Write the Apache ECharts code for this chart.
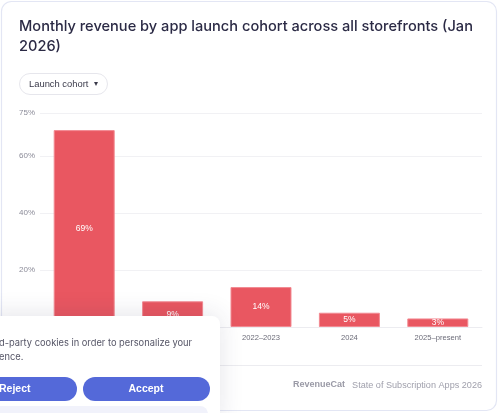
<!DOCTYPE html>
<html>
<head>
<meta charset="utf-8">
<script src="https://cdn.jsdelivr.net/npm/echarts@6/dist/echarts.min.js"></script>
<style>
html,body{margin:0;padding:0;background:#fff;}
#chart{width:500px;height:413px;}
</style>
</head>
<body>
<div id="chart"></div>
<script>
const categories = ['Before 2020', '2020–2021', '2022–2023', '2024', '2025–present'];
const revenueShare = [69, 9, 14, 5, 3];
const yTicks = [0, 20, 40, 60, 75];

const FONT = 'Inter, "Noto Sans", sans-serif';
const AXFONT = '"Liberation Sans", Arial, sans-serif';
const chart = echarts.init(document.getElementById('chart'));
chart.setOption({
  animation: false,
  textStyle: { fontFamily: FONT },
  title: {
    text: 'Monthly revenue by app launch cohort across all storefronts (Jan\n2026)',
    left: 19, top: 17, padding: 0,
    textStyle: { fontSize: 14.6, fontWeight: 500, color: '#2b2a45', lineHeight: 20, fontFamily: FONT }
  },
  grid: { left: 40, right: 18, top: 113, bottom: 86 },
  xAxis: {
    type: 'category',
    data: categories,
    axisLine: { lineStyle: { color: '#ececf0' } },
    axisTick: { show: false },
    axisLabel: { color: '#6b6b78', fontSize: 7.6, margin: 7, fontFamily: AXFONT }
  },
  yAxis: {
    type: 'value',
    min: yTicks[0], max: yTicks[yTicks.length - 1], interval: 20,
    axisLine: { show: false },
    axisTick: { show: false },
    splitLine: { lineStyle: { color: '#f1f1f4' } },
    axisLabel: { color: '#8b8b98', fontSize: 8, margin: 5, formatter: '{value}%', fontFamily: AXFONT }
  },
  series: [{
    type: 'bar',
    data: revenueShare,
    barCategoryGap: '31%',
    itemStyle: { color: '#e95761', borderColor: '#f28a92', borderWidth: 1 },
    label: { show: true, position: 'inside', color: '#fff', fontSize: 8.5, formatter: '{c}%', fontFamily: AXFONT }
  }],
  graphic: [
    { type: 'rect', z: -1, silent: true, shape: { x: 1.5, y: 1.5, width: 495, height: 409, r: 10 },
      style: { fill: 'none', stroke: '#e3e6f4', lineWidth: 1.2 } },
    { type: 'rect', shape: { x: 19.5, y: 73.5, width: 88, height: 21, r: 10.5 },
      style: { fill: '#fff', stroke: '#e6e6ec', lineWidth: 1 } },
    { type: 'text', x: 29, y: 84, style: { text: 'Launch cohort', fontSize: 9.4, fill: '#3a3a4a', verticalAlign: 'middle', fontFamily: AXFONT } },
    { type: 'text', x: 93.5, y: 84, style: { text: '▾', fontSize: 8, fill: '#3a3a4a', verticalAlign: 'middle', fontFamily: FONT } },
    { type: 'line', shape: { x1: 19, y1: 365.5, x2: 482, y2: 365.5 }, style: { stroke: '#ececf0', lineWidth: 1 } },
    { type: 'text', x: 345, y: 385, style: { text: 'RevenueCat', fontSize: 9, fontWeight: 'bold', fill: '#9a9aa6', align: 'right', verticalAlign: 'middle', fontFamily: AXFONT } },
    { type: 'text', x: 482, y: 385, style: { text: 'State of Subscription Apps 2026', fontSize: 9.1, fill: '#a0a0ac', align: 'right', verticalAlign: 'middle', fontFamily: AXFONT } },
    // cookie banner
    { type: 'rect', z: 100, shape: { x: -20, y: 316, width: 240, height: 110, r: 8 },
      style: { fill: '#fff', shadowBlur: 24, shadowColor: 'rgba(40,40,80,0.12)', shadowOffsetY: -2 } },
    { type: 'text', z: 101, x: -1, y: 343, style: { text: 'd-party cookies in order to personalize your', fontSize: 9.3, fill: '#555566', verticalAlign: 'middle', fontFamily: FONT } },
    { type: 'text', z: 101, x: -1, y: 357, style: { text: 'ence.', fontSize: 9.3, fill: '#555566', verticalAlign: 'middle', fontFamily: FONT } },
    { type: 'rect', z: 101, shape: { x: -30, y: 377, width: 107, height: 24, r: 12 }, style: { fill: '#5469d9' } },
    { type: 'text', z: 102, x: -1, y: 389, style: { text: 'Reject', fontSize: 10.5, fontWeight: 'bold', fill: '#fff', verticalAlign: 'middle', fontFamily: AXFONT } },
    { type: 'rect', z: 101, shape: { x: 83, y: 377, width: 127, height: 24, r: 12 }, style: { fill: '#5469d9' } },
    { type: 'text', z: 102, x: 146, y: 389, style: { text: 'Accept', fontSize: 10.5, fontWeight: 'bold', fill: '#fff', align: 'center', verticalAlign: 'middle', fontFamily: AXFONT } },
    { type: 'rect', z: 101, shape: { x: -20, y: 406, width: 228, height: 20, r: 8 }, style: { fill: '#f1f2fb' } }
  ]
});
</script>
</body>
</html>
